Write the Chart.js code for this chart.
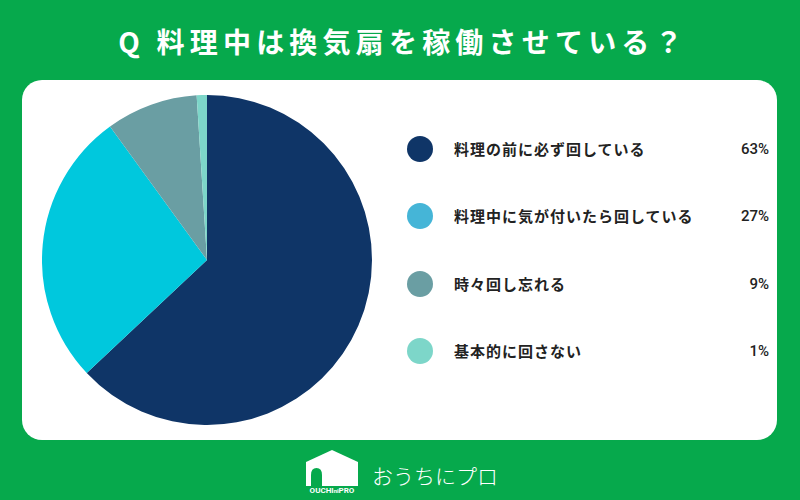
<!DOCTYPE html>
<html><head><meta charset="utf-8">
<script src="https://cdn.jsdelivr.net/npm/chart.js@4"></script>
<style>
html,body{margin:0;padding:0;}
body{width:800px;height:500px;background:#06a94c;position:relative;overflow:hidden;font-family:"Noto Sans CJK JP","Noto Sans",sans-serif;}
#title{position:absolute;left:3px;top:21px;width:800px;text-align:center;color:#fff;font-weight:700;font-size:28px;letter-spacing:5.2px;line-height:40px;}
#card{position:absolute;left:22px;top:80px;width:755px;height:360px;background:#fff;border-radius:20px;}
#wrap{position:absolute;left:42px;top:95px;width:330px;height:330px;}
.row{position:absolute;left:407px;width:362px;height:30px;}
.dot{position:absolute;left:0;top:2px;width:26px;height:26px;border-radius:50%;}
.lab{position:absolute;left:47px;top:0;line-height:30px;font-size:15px;font-weight:700;color:#222;letter-spacing:1px;}
.pct{position:absolute;right:0;top:0;line-height:30px;font-size:15px;font-weight:500;color:#222;font-family:Roboto,"Noto Sans",sans-serif;}
#logo{position:absolute;left:303px;top:448px;}
#logotext{position:absolute;left:372px;top:460px;color:#fff;font-size:21px;font-weight:300;line-height:30px;letter-spacing:0;}
</style></head>
<body>
<div id="title">Q 料理中は換気扇を稼働させている？</div>
<div id="card"></div>
<div id="wrap"><canvas id="c" width="330" height="330"></canvas></div>
<div id="legend"></div>
<svg id="logo" width="58" height="46" viewBox="0 0 58 46">
<path d="M3 14 L29 2 L55 14 L55 38 L3 38 Z" fill="#fff"/>
<path d="M8 38 L8 27 Q8 20 13.5 20 Q19 20 19 27 L19 38 Z" fill="#06a94c"/>
<text x="29" y="45" text-anchor="middle" font-size="8" font-weight="700" fill="#fff" font-family="Roboto,sans-serif">OUCHI<tspan font-size="6">ni</tspan>PRO</text>
</svg>
<div id="logotext">おうちにプロ</div>
<script>
const categories = ["料理の前に必ず回している","料理中に気が付いたら回している","時々回し忘れる","基本的に回さない"];
const values = [63, 27, 9, 1];
const pctLabels = ["63%","27%","9%","1%"];
const sliceColors = ["#0f3567","#00c8dd","#6a9ea3","#7dd6c9"];
const legendColors = ["#0f3567","#45b5d7","#6a9ea3","#7dd6c9"];
const legendTops = [134, 201, 269, 336];

const lg = document.getElementById('legend');
categories.forEach((c,i)=>{
  const r=document.createElement('div');r.className='row';r.style.top=legendTops[i]+'px';
  r.innerHTML='<div class="dot" style="background:'+legendColors[i]+'"></div><div class="lab">'+c+'</div><div class="pct">'+pctLabels[i]+'</div>';
  lg.appendChild(r);
});

new Chart(document.getElementById('c'),{
  type:'pie',
  data:{labels:categories,datasets:[{data:values,backgroundColor:sliceColors,borderWidth:0}]},
  options:{responsive:false,animation:false,layout:{padding:0},
    plugins:{legend:{display:false},tooltip:{enabled:false}}}
});
</script>
</body></html>
